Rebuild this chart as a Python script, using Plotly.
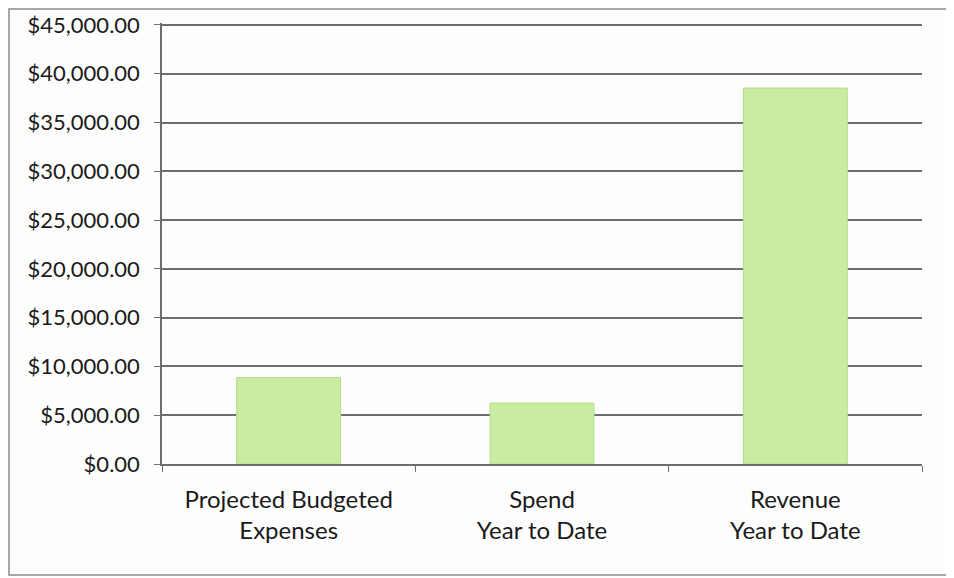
import plotly.graph_objects as go

categories = ["Projected Budgeted<br>Expenses", "Spend<br>Year to Date", "Revenue<br>Year to Date"]
values = [8850, 6240, 38530]
tick_vals = [0, 5000, 10000, 15000, 20000, 25000, 30000, 35000, 40000, 45000]
tick_text = ["$" + format(v, ",.2f") for v in tick_vals]

fig = go.Figure()
fig.add_trace(go.Bar(
    x=categories, y=values,
    marker=dict(color="#c9eca2", line=dict(color="#b2dc86", width=1)),
    width=0.41,
))

fig.update_layout(
    width=946, height=570,
    margin=dict(l=154, r=32, t=15, b=114),
    paper_bgcolor="#fdfdfd", plot_bgcolor="#fdfdfd",
    showlegend=False,
    font=dict(family="Lato, Open Sans, sans-serif", color="#1a1a1a"),
    shapes=[dict(type="rect", xref="paper", yref="paper",
                 x0=-0.2013, x1=1.0408, y0=-0.2517, y1=1.0317,
                 line=dict(color="#8a8a8a", width=1.5), layer="below")],
)
fig.update_yaxes(
    range=[0, 45200], tickvals=tick_vals, ticktext=tick_text,
    showgrid=True, gridcolor="#6e6e6e", gridwidth=1.5,
    showline=True, linecolor="#6e6e6e", linewidth=1.5,
    ticks="outside", ticklen=6, tickcolor="#6e6e6e",
    tickfont=dict(size=22, color="#1a1a1a"), ticklabelstandoff=10,
    ticklabeloverflow="allow",
    zeroline=False, automargin=False,
)
fig.update_xaxes(
    showline=True, linecolor="#6e6e6e", linewidth=1.5,
    ticks="outside", ticklen=6, tickcolor="#6e6e6e", tickson="boundaries",
    tickfont=dict(size=24, color="#1a1a1a"), ticklabelstandoff=13,
    automargin=False,
)

fig.write_html("out.html")
